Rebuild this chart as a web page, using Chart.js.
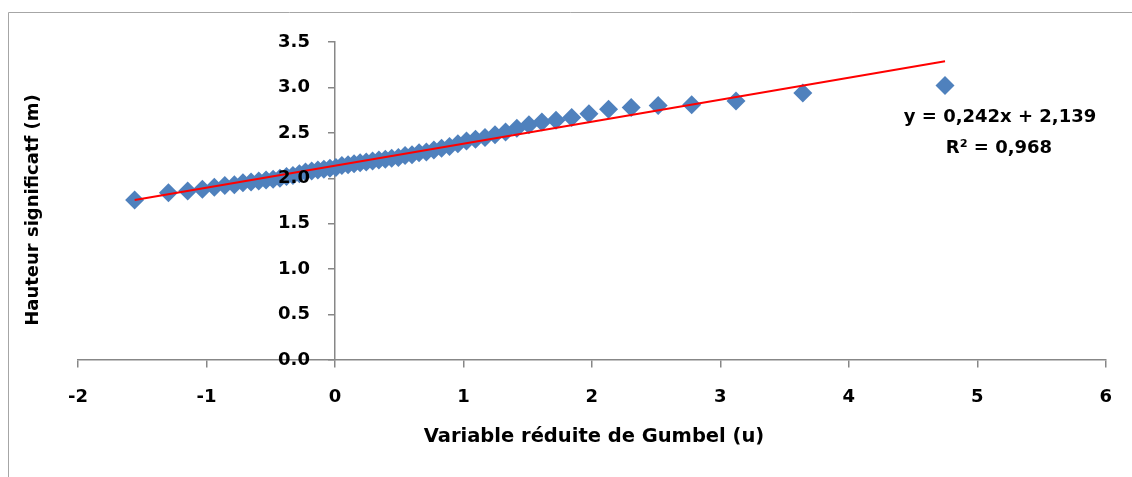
<!DOCTYPE html>
<html>
<head>
<meta charset="utf-8">
<script src="https://cdn.jsdelivr.net/npm/chart.js@4.4.0/dist/chart.umd.min.js"></script>
<style>
  html, body { margin: 0; padding: 0; background: #fff; }
  #wrap { width: 1132px; height: 477px; }
</style>
</head>
<body>
<div id="wrap"><canvas id="chart" width="1132" height="477"></canvas></div>
<script>
// Gumbel reduced variate (u) and significant wave height (m)
const gumbelU = [
  -1.559, -1.296, -1.146, -1.032, -0.939, -0.857, -0.783, -0.716, -0.653, -0.593,
  -0.536, -0.481, -0.428, -0.377, -0.327, -0.277, -0.229, -0.181, -0.133, -0.086,
  -0.039, 0.008, 0.054, 0.102, 0.149, 0.196, 0.244, 0.293, 0.342, 0.392,
  0.442, 0.494, 0.546, 0.600, 0.655, 0.712, 0.770, 0.830, 0.892, 0.957,
  1.024, 1.094, 1.168, 1.246, 1.328, 1.416, 1.510, 1.611, 1.721, 1.843,
  1.977, 2.130, 2.306, 2.516, 2.777, 3.122, 3.642, 4.749
];
const hauteur = [
  1.76, 1.84, 1.86, 1.88, 1.90, 1.92, 1.93, 1.95, 1.96, 1.97,
  1.98, 1.99, 2.00, 2.02, 2.03, 2.05, 2.07, 2.08, 2.09, 2.10,
  2.11, 2.12, 2.14, 2.15, 2.16, 2.17, 2.18, 2.19, 2.20, 2.21,
  2.22, 2.23, 2.25, 2.26, 2.28, 2.29, 2.31, 2.33, 2.35, 2.38,
  2.41, 2.43, 2.45, 2.48, 2.51, 2.55, 2.59, 2.62, 2.64, 2.67,
  2.71, 2.76, 2.78, 2.80, 2.81, 2.85, 2.94, 3.02
];
// linear trend end points (y = 0,242x + 2,139)
const trendU = [-1.559, 4.749];
const trendH = [1.762, 3.288];

const equationLines = ['y = 0,242x + 2,139', 'R\u00b2 = 0,968'];
const xTitle = 'Variable réduite de Gumbel (u)';
const yTitle = 'Hauteur significatf (m)';

const FONT = 'DejaVu Sans';
const axisGrey = '#878787';

const extras = {
  id: 'extras',
  beforeDraw(chart) {
    const ctx = chart.ctx;
    ctx.save();
    ctx.strokeStyle = '#a6a6a6';
    ctx.lineWidth = 1;
    ctx.beginPath();
    ctx.moveTo(8.5, 480);
    ctx.lineTo(8.5, 12.5);
    ctx.lineTo(1140, 12.5);
    ctx.stroke();
    ctx.restore();
  },
  afterDraw(chart) {
    const ctx = chart.ctx;
    const yScale = chart.scales.y;
    const x0 = chart.scales.x.getPixelForValue(0);
    ctx.save();
    ctx.fillStyle = '#000';
    // y tick labels, right aligned left of the axis
    ctx.font = 'bold 18px "' + FONT + '"';
    ctx.textAlign = 'right';
    ctx.textBaseline = 'middle';
    yScale.ticks.forEach(t => {
      ctx.fillText(t.value.toFixed(1), x0 - 25, yScale.getPixelForValue(t.value));
    });
    // axis titles
    ctx.font = 'bold 19.5px "' + FONT + '"';
    ctx.textAlign = 'center';
    ctx.fillText(xTitle, 594, 437);
    ctx.save();
    ctx.translate(33, 210);
    ctx.rotate(-Math.PI / 2);
    ctx.font = 'bold 18px "' + FONT + '"';
    ctx.fillText(yTitle, 0, 0);
    ctx.restore();
    // trend equation
    ctx.font = 'bold 18px "' + FONT + '"';
    ctx.fillText(equationLines[0], 1000, 117);
    ctx.fillText(equationLines[1], 999, 148);
    ctx.restore();
  }
};

new Chart(document.getElementById('chart'), {
  type: 'scatter',
  data: {
    datasets: [
      {
        type: 'line',
        label: 'Tendance',
        data: trendU.map((u, i) => ({ x: u, y: trendH[i] })),
        borderColor: '#ff0000',
        borderWidth: 2,
        pointRadius: 0,
        showLine: true,
        fill: false,
        order: 0
      },
      {
        label: 'Hs',
        data: gumbelU.map((u, i) => ({ x: u, y: hauteur[i] })),
        pointStyle: 'rectRot',
        pointRadius: 9.5,
        pointBackgroundColor: '#4f81bd',
        pointBorderWidth: 0,
        borderColor: '#4f81bd',
        order: 1
      }
    ]
  },
  options: {
    responsive: false,
    animation: false,
    layout: { padding: { left: 78, right: 24, top: 42, bottom: 117 } },
    plugins: {
      legend: { display: false },
      tooltip: { enabled: false }
    },
    scales: {
      x: {
        type: 'linear',
        position: { y: 0 },
        min: -2,
        max: 6,
        ticks: {
          stepSize: 1,
          color: '#000',
          padding: 20,
          font: { family: FONT, size: 18, weight: 'bold' }
        },
        grid: { drawOnChartArea: false, tickLength: 7, color: axisGrey, lineWidth: 1.5 },
        border: { color: axisGrey, width: 1.5 }
      },
      y: {
        type: 'linear',
        position: { x: 0 },
        min: 0,
        max: 3.5,
        ticks: { stepSize: 0.5, display: false },
        grid: { drawOnChartArea: false, tickLength: 6, color: axisGrey, lineWidth: 1.5 },
        border: { color: axisGrey, width: 1.5 }
      }
    }
  },
  plugins: [extras]
});
</script>
</body>
</html>
